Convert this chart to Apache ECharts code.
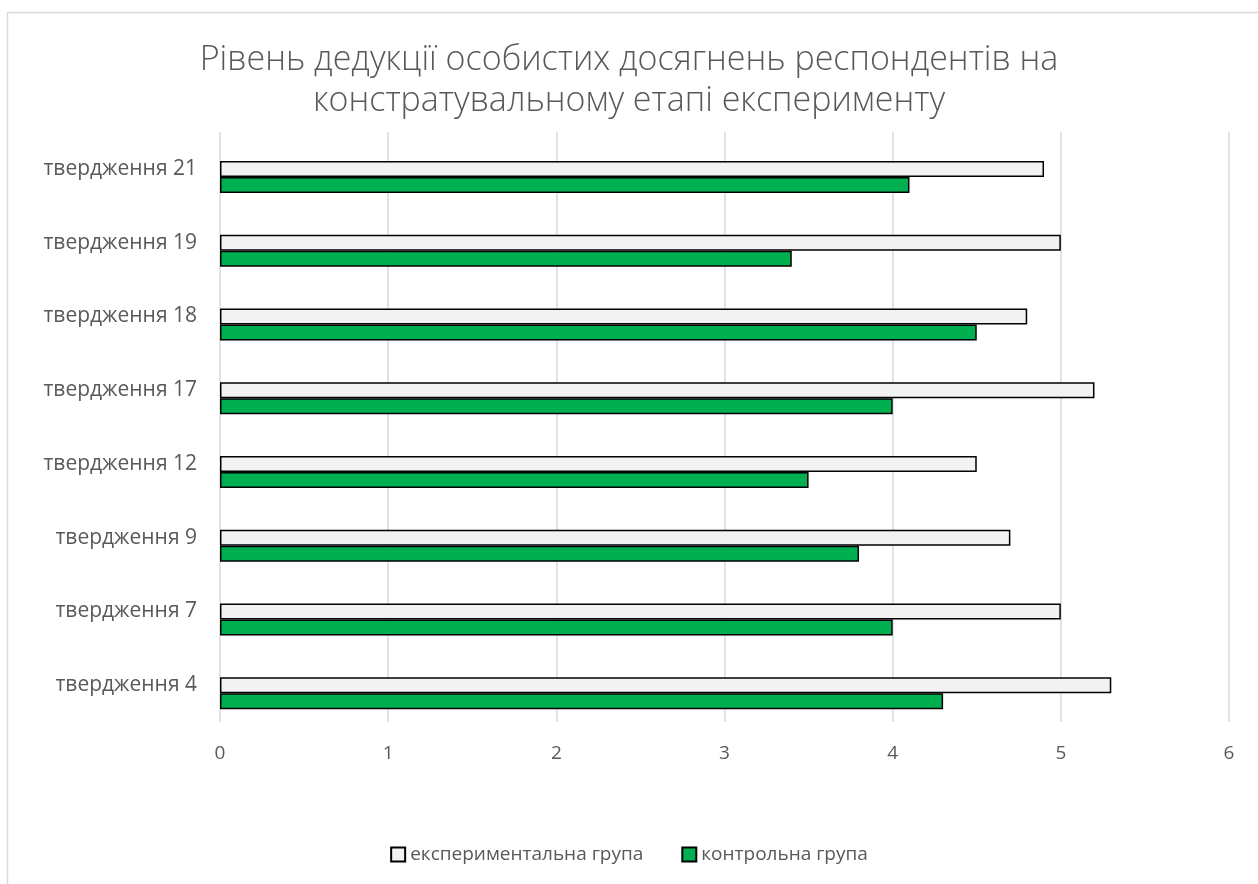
<!DOCTYPE html>
<html>
<head>
<meta charset="utf-8">
<script src="https://cdn.jsdelivr.net/npm/echarts@6/dist/echarts.min.js"></script>
<style>
  html, body { margin: 0; padding: 0; background: #ffffff; }
  #chart { width: 1258px; height: 884px; }
</style>
</head>
<body>
<div id="chart"></div>
<script>
// Statements, listed bottom to top along the category axis
const categories = ['твердження 4', 'твердження 7', 'твердження 9', 'твердження 12',
                    'твердження 17', 'твердження 18', 'твердження 19', 'твердження 21'];
const experimentalGroup = [5.3, 5.0, 4.7, 4.5, 5.2, 4.8, 5.0, 4.9];
const controlGroup      = [4.3, 4.0, 3.8, 3.5, 4.0, 4.5, 3.4, 4.1];
const xTicks = [0, 1, 2, 3, 4, 5, 6];

const titleText = 'Рівень дедукції особистих досягнень респондентів на\nконстратувальному етапі експерименту';
const textColor = '#595959';
const fontFamily = '"Open Sans", "Noto Sans", sans-serif';

const chart = echarts.init(document.getElementById('chart'), null, { renderer: 'canvas' });

chart.setOption({
  backgroundColor: '#ffffff',
  animation: false,
  graphic: [{
    type: 'rect',
    shape: { x: 7.5, y: 12.5, width: 1400, height: 1000 },
    style: { fill: 'none', stroke: '#d9d9d9', lineWidth: 1.5 },
    silent: true
  }],
  title: {
    text: titleText,
    left: 'center',
    top: 35,
    textStyle: {
      fontFamily: fontFamily,
      fontWeight: 300,
      fontSize: 34,
      lineHeight: 41,
      color: textColor
    }
  },
  legend: {
    data: ['експериментальна група', 'контрольна група'],
    bottom: 15,
    left: 'center',
    itemWidth: 14,
    itemHeight: 14,
    itemGap: 38,
    icon: 'rect',
    textStyle: { fontFamily: fontFamily, fontSize: 19, color: textColor }
  },
  grid: { left: 220, right: 29, top: 132, height: 590, containLabel: false },
  xAxis: {
    type: 'value',
    min: xTicks[0],
    max: xTicks[xTicks.length - 1],
    interval: 1,
    axisLine: { show: false },
    axisTick: { show: false },
    axisLabel: { margin: 22, fontFamily: fontFamily, fontSize: 19, color: textColor },
    splitLine: { show: true, lineStyle: { color: '#d9d9d9', width: 1.5 } }
  },
  yAxis: {
    type: 'category',
    data: categories,
    axisLine: { show: false },
    axisTick: { show: false },
    axisLabel: { margin: 23, fontFamily: fontFamily, fontSize: 21, color: textColor }
  },
  series: [
    {
      // empty slot above each pair, keeps the pair slightly below the tick label
      name: 'spacer',
      type: 'bar',
      data: categories.map(() => '-'),
      barWidth: 16,
      barGap: '0%',
      silent: true
    },
    {
      name: 'експериментальна група',
      type: 'bar',
      data: experimentalGroup,
      barWidth: 16,
      barGap: '0%',
      itemStyle: { color: '#f2f2f2', borderColor: '#000000', borderWidth: 1.5 }
    },
    {
      name: 'контрольна група',
      type: 'bar',
      data: controlGroup,
      barWidth: 16,
      barGap: '0%',
      itemStyle: { color: '#00b050', borderColor: '#000000', borderWidth: 1.5 }
    }
  ]
});
</script>
</body>
</html>
